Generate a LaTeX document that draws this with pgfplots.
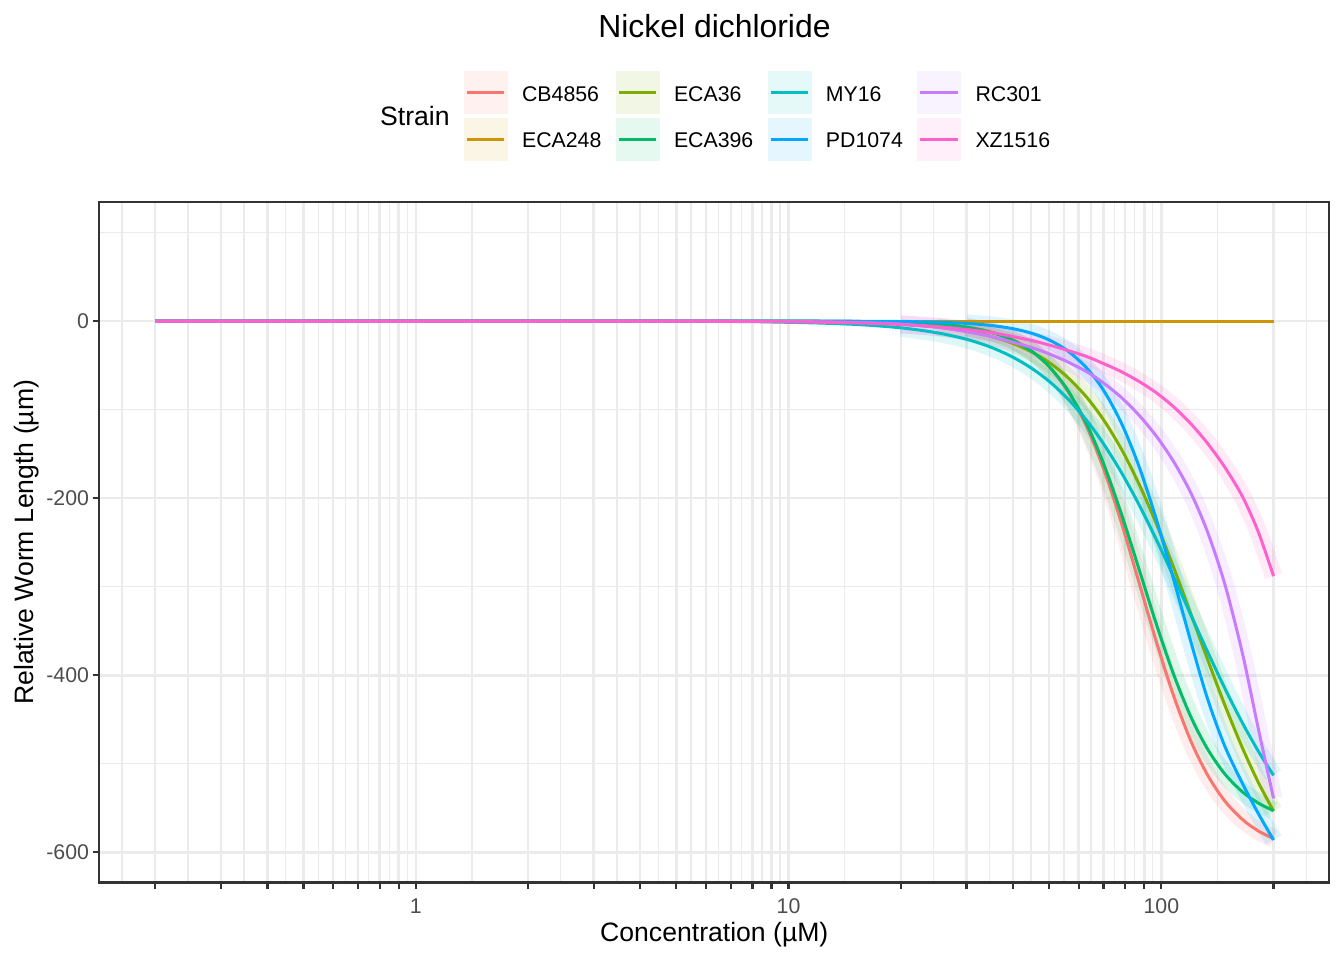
\documentclass[border=0pt]{standalone}
\usepackage{fontspec}
\setmainfont{Liberation Sans}
\usepackage{pgfplots}
\usepackage{pgfplotstable}
\pgfplotsset{compat=1.18}
\definecolor{cCB}{HTML}{F8766D}
\definecolor{cEB}{HTML}{CD9600}
\definecolor{cEC}{HTML}{7CAE00}
\definecolor{cED}{HTML}{00BE67}
\definecolor{cMY}{HTML}{00BFC4}
\definecolor{cPD}{HTML}{00A9FF}
\definecolor{cRC}{HTML}{C77CFF}
\definecolor{cXZ}{HTML}{FF61CC}
\definecolor{grid92}{HTML}{EBEBEB}
\definecolor{g20}{HTML}{333333}
\definecolor{g30}{HTML}{4D4D4D}
\newcommand{\ticksize}{\fontsize{21.3}{25}\selectfont}
\newcommand{\titlesize}{\fontsize{26.6}{31}\selectfont}
\newcommand{\mainsize}{\fontsize{31.9}{38}\selectfont}
\pgfplotstableread{
c     CB     EB  EC     ED     MY     PD     RC     XZ
0.2   0      0   0      0      0      0      0      0
5     0      0   -0.1   0      -0.2   0      -0.1   -0.1
10    -0.1   0   -0.5   -0.1   -1.4   0      -0.5   -0.8
15    -0.4   0   -1.5   -0.4   -3.7   -0.2   -1.5   -2.0
20    -1.2   0   -3.5   -1.3   -7.6   -0.5   -3.5   -3.8
25    -3.0   0   -6.7   -3.3   -13.2  -1.2   -7.0   -6.3
30    -6.5   0   -11.2  -6.9   -20.5  -2.6   -12.0  -9.5
35    -12.3  0   -17.4  -12.8  -29.7  -5.0   -17.5  -13.0
40    -21.2  0   -25.3  -21.7  -40.8  -8.6   -24.0  -17.5
45    -34.0  0   -35.1  -34.4  -53.6  -13.9  -30.0  -22.0
50    -51.4  0   -46.7  -51.3  -68.0  -21.3  -37.0  -27.0
56    -78.6  0   -63.3  -77.5  -87.3  -33.4  -46.0  -33.0
63    -118.9 0   -85.8  -115.9 -112.0 -52.8  -57.0  -40.0
70    -166.8 0   -111.5 -160.9 -138.6 -78.2  -70.0  -48.0
78    -226.7 0   -144.0 -216.7 -170.4 -114.5 -86.0  -57.0
87    -294.3 0   -183.4 -279.3 -206.8 -163.4 -106.0 -68.0
97    -362.3 0   -228.9 -342.3 -246.9 -224.0 -130.0 -81.0
108   -423.7 0   -278.7 -399.5 -289.1 -292.4 -159.0 -97.0
120   -474.2 0   -330.6 -446.8 -331.8 -362.1 -194.0 -116.0
133   -512.5 0   -381.9 -483.2 -373.2 -426.4 -238.0 -138.0
148   -542.0 0   -433.5 -511.4 -414.6 -480.0 -297.0 -165.0
165   -562.8 0   -481.9 -531.6 -453.7 -522.0 -375.0 -198.0
182   -575.8 0   -520.8 -544.3 -485.6 -556.0 -460.0 -238.0
200   -584.4 0   -553.3 -552.9 -513.0 -586.0 -539.0 -288.0
}\curves
\pgfplotsset{
  legkey/.style={legend image code/.code={%
      \fill[#1!10!white] (0pt,-21.15pt) rectangle (42.7pt,21.15pt);
      \draw[#1, line width=3pt, line cap=butt] (2.7pt,0pt) -- (40pt,0pt);}},
  band/.style={draw=#1, draw opacity=0.13, line width=18pt, line cap=butt, line join=round, smooth, forget plot},
  curve/.style={draw=#1, line width=3pt, smooth, forget plot},
}
\begin{document}
\begin{tikzpicture}
\path[use as bounding box] (0pt,0pt) rectangle (1344pt,960pt);
\begin{axis}[
  scale only axis, width=1230pt, height=680.5pt,
  at={(99.3pt,77.5pt)}, anchor=south west,
  xmode=log, log basis x=10,
  xmin=0.14158, xmax=282.2, ymin=-634, ymax=134.5,
  axis line style={draw=g20, line width=2.2pt},
  grid=both,
  major grid style={draw=grid92, line width=2.5pt},
  minor grid style={draw=grid92, line width=1.3pt},
  tick align=outside, tick pos=left,
  major tick length=6.65pt, minor tick length=0pt,
  every tick/.style={draw=g20, line width=2.2pt},
  xtick={0.2,0.3,0.4,0.5,0.6,0.7,0.8,0.9,1,2,3,4,5,6,7,8,9,10,20,30,40,50,60,70,80,90,100,200},
  xticklabels={{},{},{},{},{},{},{},{},1,{},{},{},{},{},{},{},{},10,{},{},{},{},{},{},{},{},100,{}},
  minor xtick={0.163,0.2449,0.3464,0.4472,0.5477,0.6481,0.7483,0.8485,0.9487,1.414,2.449,3.464,4.472,5.477,6.481,7.483,8.485,9.487,14.14,24.49,34.64,44.72,54.77,64.81,74.83,84.85,94.87,141.4,244.9},
  ytick={-600,-400,-200,0},
  yticklabels={-600,-400,-200,0},
  minor ytick={-500,-300,-100,100},
  xticklabel style={font=\ticksize, text=g30, inner sep=0pt, yshift=-9pt},
  yticklabel style={font=\ticksize, text=g30, inner sep=0pt, xshift=-3.5pt},
  legend columns=4,
  legend cell align=left,
  legend style={at={(0.2965,1.1925)}, anchor=north west, draw=none, fill=none,
    inner sep=0pt, outer sep=0pt, font=\ticksize, row sep=4pt, column sep=0pt,
    /tikz/every odd column/.style={column sep=15pt},
    /tikz/every even column/.style={column sep=14.5pt},
    nodes={inner sep=0pt, yshift=-2pt}},
]
% ribbons
\addplot[band=cCB] table[x=c,y=CB, skip coords between index={0}{6}] {\curves};
\addplot[band=cEC] table[x=c,y=EC, skip coords between index={0}{5}] {\curves};
\addplot[band=cED] table[x=c,y=ED, skip coords between index={0}{6}] {\curves};
\addplot[band=cMY] table[x=c,y=MY, skip coords between index={0}{4}] {\curves};
\addplot[band=cPD] table[x=c,y=PD, skip coords between index={0}{6}] {\curves};
\addplot[band=cRC] table[x=c,y=RC, skip coords between index={0}{4}] {\curves};
\addplot[band=cXZ] table[x=c,y=XZ, skip coords between index={0}{4}] {\curves};
% lines
\addplot[curve=cCB] table[x=c,y=CB] {\curves};
\addplot[curve=cEB] table[x=c,y=EB] {\curves};
\addplot[curve=cEC] table[x=c,y=EC] {\curves};
\addplot[curve=cED] table[x=c,y=ED] {\curves};
\addplot[curve=cMY] table[x=c,y=MY] {\curves};
\addplot[curve=cPD] table[x=c,y=PD] {\curves};
\addplot[curve=cRC] table[x=c,y=RC] {\curves};
\addplot[curve=cXZ] table[x=c,y=XZ] {\curves};
% legend
\addlegendimage{legkey=cCB}\addlegendentry{CB4856}
\addlegendimage{legkey=cEC}\addlegendentry{ECA36}
\addlegendimage{legkey=cMY}\addlegendentry{MY16}
\addlegendimage{legkey=cRC}\addlegendentry{RC301}
\addlegendimage{legkey=cEB}\addlegendentry{ECA248}
\addlegendimage{legkey=cED}\addlegendentry{ECA396}
\addlegendimage{legkey=cPD}\addlegendentry{PD1074}
\addlegendimage{legkey=cXZ}\addlegendentry{XZ1516}
\end{axis}
\node[anchor=base, font=\mainsize, inner sep=0pt] at (714.5pt,922.5pt) {Nickel dichloride};
\node[anchor=base, font=\titlesize, inner sep=0pt] at (714.3pt,18pt) {Concentration (µM)};
\node[anchor=base, rotate=90, font=\titlesize, inner sep=0pt] at (34pt,417.75pt) {Relative Worm Length (µm)};
\node[anchor=base west, font=\titlesize, inner sep=0pt] at (380pt,834.3pt) {Strain};
\end{tikzpicture}
\end{document}
